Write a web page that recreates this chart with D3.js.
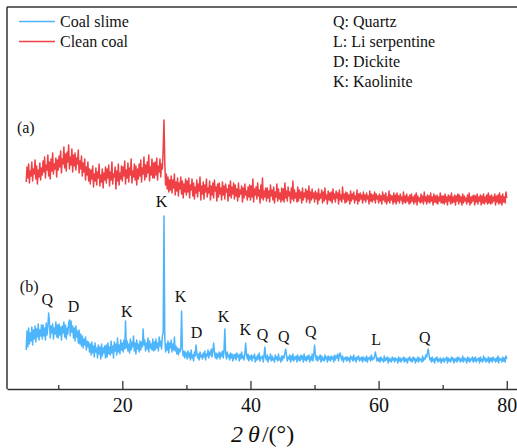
<!DOCTYPE html>
<html><head><meta charset="utf-8">
<script src="https://cdn.jsdelivr.net/npm/d3@7"></script>
<style>
body{margin:0;background:#fff;}
svg text{font-family:"Times New Roman","Liberation Serif","DejaVu Serif",serif;fill:#111;}
</style>
</head><body>
<svg id="c" width="517" height="448"></svg>
<script>
// 2θ grid of the scans (degrees)
const angleStart = 5, angleStep = 0.125;

// Clean coal (a) intensity, a.u.
const cleanCoal = [
206,221,210,224,205,217,212,226,207,219,214,228,209,222,204,218,211,225,208,220,
213,227,216,231,210,223,218,233,212,226,209,229,217,235,214,224,219,230,211,228,
218,232,221,237,215,229,224,241,220,234,217,236,226,243,219,231,223,239,216,233,
222,235,218,230,224,238,215,227,219,232,212,225,216,229,208,221,213,226,207,219,
204,218,209,222,201,214,207,220,203,216,210,224,202,213,206,219,200,215,208,221,
205,219,210,223,202,216,208,226,204,214,211,221,199,217,207,224,203,215,209,222,
207,221,212,227,204,218,210,225,206,220,213,229,205,217,211,224,208,222,203,219,
209,224,212,228,206,220,214,231,208,223,211,226,215,233,207,221,213,229,210,225,
210,226,213,230,208,222,216,229,211,224,219,238,268,226,203,214,199,211,196,208,
198,212,195,208,200,214,193,206,197,210,192,205,199,211,194,207,190,204,196,209,
193,207,196,210,190,203,198,209,192,205,189,201,195,208,191,204,197,211,188,202,
194,206,189,203,196,209,191,200,195,207,188,202,193,205,190,208,197,201,187,204,
191,205,194,200,188,206,193,202,189,204,196,199,187,203,192,207,190,201,194,205,
189,203,192,199,187,205,191,198,194,202,186,200,190,204,193,197,188,201,191,203,
188,202,191,209,186,199,193,201,189,205,192,198,185,203,190,210,188,197,191,200,
187,200,190,197,186,203,192,198,188,201,185,196,191,204,187,199,189,195,186,200,
188,199,186,205,190,197,187,201,192,196,185,200,189,207,187,198,190,195,186,201,
187,198,190,196,185,200,188,195,191,199,186,197,189,202,185,196,188,199,190,195,
186,197,189,195,184,199,188,194,190,198,185,196,187,200,189,193,184,197,188,195,
187,196,185,199,189,194,186,197,190,195,184,198,188,193,186,201,189,194,185,196,
186,195,188,193,184,197,187,194,189,196,185,192,188,198,184,194,187,195,189,193,
185,196,188,193,186,195,189,192,184,197,187,194,186,193,188,196,185,194,189,192,
185,194,187,192,184,196,188,193,186,195,184,191,187,197,185,193,188,192,184,195,
186,193,184,195,187,192,185,194,188,191,184,196,186,192,185,194,187,191,184,193,
185,194,187,191,184,193,186,195,183,192,187,190,185,194,186,192,184,196,187,191,
184,193,186,192,185,195,187,191,183,194,186,192,185,193,184,191,187,195,185,192,
185,192,184,194,186,191,183,193,187,192,184,195,185,191,186,193,183,192,187,194,
184,193,186,191,183,194,185,192,187,190,184,193,186,195,183,191,185,192,187,193,
183,192,186,194,184,191,187,193,183,192,185,194,184,191,186,193,184,195,185,192,
184,193,185,191,187,194,183,192,186,193,184,195,185,192,183,194,186,191,185,196,
190
];

// Coal slime (b) intensity, a.u.
const coalSlime = [
38,57,41,60,44,55,47,61,43,58,49,62,46,59,51,64,48,58,52,63,
49,63,52,60,48,65,53,61,75,66,50,62,55,64,49,60,54,66,51,63,
50,64,53,61,48,62,55,66,51,63,49,60,54,65,68,52,67,56,62,50,
60,47,62,51,57,45,58,44,54,42,52,40,49,43,51,38,47,41,46,36,
44,33,46,35,42,31,45,36,40,30,43,34,41,29,44,32,40,35,42,30,
43,31,45,34,41,33,47,35,42,30,46,37,44,33,50,36,43,34,48,38,
45,36,48,39,67,40,47,37,44,35,49,38,46,41,52,37,45,34,48,39,
44,36,47,38,46,41,59,43,48,37,45,39,50,36,47,40,44,38,49,37,
46,38,49,40,45,37,51,42,47,39,52,55,172,50,36,44,38,47,35,45,
40,48,36,44,38,51,37,42,34,40,33,39,36,41,77,38,32,37,30,36,
34,29,37,31,35,28,38,30,33,27,36,32,43,35,30,34,28,36,31,33,
29,35,31,37,28,34,32,38,30,36,33,39,31,37,45,36,30,35,29,34,
31,36,29,35,32,37,30,38,59,34,29,36,31,33,28,35,30,34,27,33,
30,34,28,35,31,33,27,34,29,36,30,32,28,35,45,33,29,34,27,32,
29,33,27,32,30,34,26,31,28,33,29,35,27,31,30,32,26,33,41,30,
28,33,26,31,29,34,27,32,28,30,26,33,29,31,27,34,28,30,26,32,
28,32,30,35,39,33,27,31,29,33,26,32,28,34,27,31,29,32,26,33,
28,31,27,33,29,32,26,34,28,31,27,32,29,33,26,31,28,34,27,32,
43,34,28,32,27,31,29,33,26,32,28,30,27,33,29,31,26,32,28,31,
27,32,29,31,26,33,28,32,30,34,27,33,35,31,28,32,26,30,29,31,
27,31,28,30,26,32,29,31,27,33,28,30,26,31,29,32,27,30,28,31,
26,31,28,30,27,32,26,30,29,31,27,33,28,30,29,32,36,31,27,30,
27,30,26,31,28,29,26,32,27,30,28,31,25,30,27,29,26,31,28,30,
26,30,28,29,25,31,27,30,26,29,28,31,26,30,27,29,25,30,28,31,
27,29,26,31,28,30,25,29,27,31,26,30,28,29,26,32,27,30,29,33,
31,35,39,33,28,30,26,31,27,29,25,30,28,31,26,29,27,30,25,29,
27,30,26,29,28,31,25,30,27,29,26,31,28,30,25,29,27,30,26,31,
28,30,26,29,27,32,26,30,28,29,25,31,27,30,26,29,28,31,26,30,
27,31,26,29,28,30,25,31,27,29,26,32,28,30,26,29,27,31,25,30,
27,30,26,31,28,29,26,30,27,32,25,30,28,29,26,31,27,30,26,32,
29
];

const seriesNames = ["Coal slime", "Clean coal"];
const seriesColors = ["#4db5fb", "#ef4045"];
const xTicksMajor = [20, 40, 60, 80];
const xTicksMinor = [10, 30, 50, 70];

const peakLabels = ["Q","D","K","K","K","D","K","K","Q","Q","Q","L","Q"];
const peakAngles = [8.3,12.4,20.7,26.1,29.1,31.6,35.8,39.2,41.9,45.2,49.4,59.6,67.2];
const peakLevels = [83,76,71,181,86,50,66,53,48,46,51,43,45];

const panelLabels = ["(a)", "(b)"];
const panelAngles = [3.55, 4.0];
const panelLevels = [255, 96];

const phaseKey = ["Q: Quartz", "L: Li serpentine", "D: Dickite", "K: Kaolinite"];

const FONT = "'Times New Roman','Liberation Serif','DejaVu Serif',serif";
const svg = d3.select("#c");
const x = d3.scaleLinear().domain([2, 81.6]).range([7, 517]);
const y = d3.scaleLinear().domain([0, 381]).range([388, 7]);

const line = d3.line()
  .x((d, i) => x(angleStart + i * angleStep))
  .y(d => y(d));

// series
svg.append("path").datum(cleanCoal).attr("d", line)
  .attr("fill", "none").attr("stroke", seriesColors[1]).attr("stroke-width", 1.5).attr("stroke-linejoin", "round");
svg.append("path").datum(coalSlime).attr("d", line)
  .attr("fill", "none").attr("stroke", seriesColors[0]).attr("stroke-width", 1.5).attr("stroke-linejoin", "round");

// frame
svg.append("line").attr("x1", 7).attr("x2", 7).attr("y1", 7).attr("y2", 389)
  .attr("stroke", "#333").attr("stroke-width", 1.5);
svg.append("line").attr("x1", 7).attr("x2", 517).attr("y1", 7).attr("y2", 7)
  .attr("stroke", "#333").attr("stroke-width", 1.5);

// x axis
const ax = svg.append("g").attr("transform", "translate(0,389)")
  .call(d3.axisBottom(x).tickValues(xTicksMajor).tickSizeInner(-8).tickSizeOuter(0).tickPadding(9).tickFormat(d3.format("d")));
ax.attr("font-family", FONT);
ax.select(".domain").attr("stroke", "#333").attr("stroke-width", 1.5);
ax.selectAll(".tick line").attr("stroke", "#333").attr("stroke-width", 1.3);
ax.selectAll(".tick text").attr("font-size", 20).style("font-family", FONT).attr("fill", "#111");
svg.append("g").attr("transform", "translate(0,389)")
  .call(d3.axisBottom(x).tickValues(xTicksMinor).tickSizeInner(-4).tickSizeOuter(0).tickFormat(""))
  .call(g => g.select(".domain").remove())
  .selectAll(".tick line").attr("stroke", "#333").attr("stroke-width", 1.3);

// axis title
const t = svg.append("text").attr("x", x(41.9)).attr("y", 442).attr("text-anchor", "middle")
  .attr("font-size", 24).style("font-family", FONT);
t.append("tspan").attr("font-style", "italic").text("2");
t.append("tspan").attr("font-style", "italic").attr("dx", 5).text("θ");
t.append("tspan").attr("dx", 2).text("/(°)");

// peak labels
svg.append("g").selectAll("text").data(peakLabels).join("text")
  .attr("x", (d, i) => x(peakAngles[i])).attr("y", (d, i) => y(peakLevels[i]))
  .attr("text-anchor", "middle").attr("font-size", 16).style("font-family", FONT).text(d => d);

// panel labels
svg.append("g").selectAll("text").data(panelLabels).join("text")
  .attr("x", (d, i) => x(panelAngles[i])).attr("y", (d, i) => y(panelLevels[i]))
  .attr("font-size", 16).style("font-family", FONT).text(d => d);

// legend
const lg = svg.append("g");
seriesNames.forEach((n, i) => {
  lg.append("line").attr("x1", 19).attr("x2", 55).attr("y1", 21.5 + i * 20).attr("y2", 21.5 + i * 20)
    .attr("stroke", seriesColors[i]).attr("stroke-width", 1.6);
  lg.append("text").attr("x", 60).attr("y", 27 + i * 20).attr("font-size", 16).style("font-family", FONT).text(n);
});
phaseKey.forEach((k, i) => {
  lg.append("text").attr("x", 333).attr("y", 27 + i * 20).attr("font-size", 16).style("font-family", FONT).text(k);
});
</script>
</body></html>
